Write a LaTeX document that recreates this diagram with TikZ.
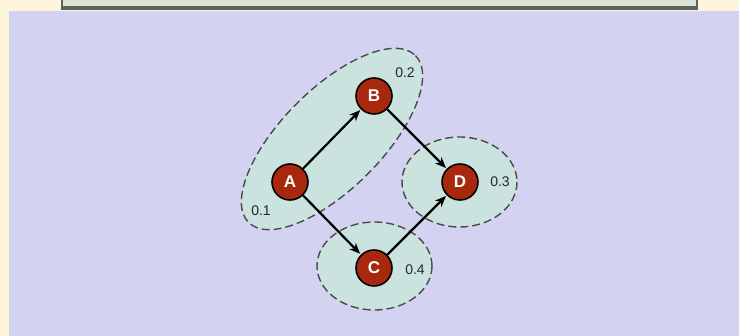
\documentclass[tikz,border=0pt]{standalone}
\usepackage{fontspec}
\setmainfont{Liberation Sans}
\usetikzlibrary{arrows.meta}
\definecolor{cream}{HTML}{FFF4DC}
\definecolor{lav}{HTML}{D3D3F1}
\definecolor{topbox}{HTML}{DCE4D8}
\definecolor{topedge}{HTML}{5E635C}
\definecolor{blob}{HTML}{CBE3DE}
\definecolor{nodered}{HTML}{A8280E}
\definecolor{dashc}{HTML}{4A4A4A}
\tikzset{
  vert/.style={circle, draw=black, line width=1.6pt, fill=nodered, minimum size=36pt, inner sep=0pt, text=white, font=\fontsize{17}{17}\selectfont\bfseries},
  group/.style={draw=dashc, fill=blob, line width=1.4pt, dash pattern=on 8pt off 4pt},
  prob/.style={font=\fontsize{14}{14}\selectfont, text=black!85, inner sep=1pt},
  edge/.style={line width=2.2pt, -{Stealth[length=11pt,width=9pt]}, shorten >=1pt}
}
\begin{document}
\begin{tikzpicture}[x=1pt,y=-1pt]
\useasboundingbox (0,0) rectangle (739,336);
\fill[cream] (0,0) rectangle (739,336);
% top box
\fill[topbox] (61,-5) rectangle (698,10);
\draw[topedge, line width=1.6pt] (61.8,-5) -- (61.8,9) (697.2,-5) -- (697.2,9);
\fill[topedge] (61,6) rectangle (698,10);
% lavender panel
\fill[lav] (9,11.5) rectangle (739,336);
% groups
\draw[group] (332,139) ellipse[x radius=118, y radius=50, rotate=45];
\draw[group] (459.5,182) ellipse[x radius=57.5, y radius=45];
\draw[group] (374.5,266) ellipse[x radius=57.5, y radius=44];
% vertices
\node[vert] (A) at (290,182) {A};
\node[vert] (B) at (374,96) {B};
\node[vert] (D) at (460,182) {D};
\node[vert] (C) at (374,268) {C};
% edges
\draw[edge] (A) -- (B);
\draw[edge] (B) -- (D);
\draw[edge] (A) -- (C);
\draw[edge] (C) -- (D);
% labels
\node[prob] (p1) at (261,211) {0.1};
\node[prob] (p2) at (405,73) {0.2};
\node[prob] (p3) at (500,182) {0.3};
\node[prob] (p4) at (415,270) {0.4};
\end{tikzpicture}
\end{document}
